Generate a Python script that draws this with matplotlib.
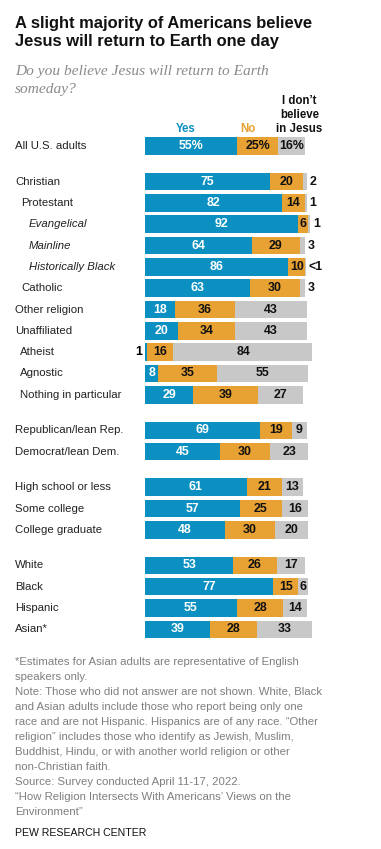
import matplotlib
matplotlib.use("Agg")
import matplotlib.pyplot as plt

plt.rcParams['font.family'] = ['Liberation Sans', 'DejaVu Sans']

# data
categories = [
    "All U.S. adults",
    "Christian", "Protestant", "Evangelical", "Mainline", "Historically Black",
    "Catholic", "Other religion", "Unaffiliated", "Atheist", "Agnostic",
    "Nothing in particular",
    "Republican/lean Rep.", "Democrat/lean Dem.",
    "High school or less", "Some college", "College graduate",
    "White", "Black", "Hispanic", "Asian*",
]
yes = [55, 75, 82, 92, 64, 86, 63, 18, 20, 1, 8, 29, 69, 45, 61, 57, 48, 53, 77, 55, 39]
no = [25, 20, 14, 6, 29, 10, 30, 36, 34, 16, 35, 39, 19, 30, 21, 25, 30, 26, 15, 28, 28]
dont = [16, 2, 1, 1, 3, 0.4, 3, 43, 43, 84, 55, 27, 9, 23, 13, 16, 20, 17, 6, 14, 33]

# group number (for vertical gaps) and indent level of each row
groups = [0, 1, 1, 1, 1, 1, 1, 1, 1, 1, 1, 1, 2, 2, 3, 3, 3, 4, 4, 4, 4]
indent = [0, 0, 1, 2, 2, 2, 1, 0, 0, 1, 1, 1, 0, 0, 0, 0, 0, 0, 0, 0, 0]
italic_rows = {"Evangelical", "Mainline", "Historically Black"}

BLUE = "#0B90C1"
ORANGE = "#E8A133"
GRAY = "#C8C8C8"
W, H = 381, 849

fig = plt.figure(figsize=(W / 100, H / 100), dpi=100)
fig.patch.set_facecolor("white")

# text layer in pixel coordinates
tx = fig.add_axes([0, 0, 1, 1])
tx.set_xlim(0, W)
tx.set_ylim(H, 0)
tx.axis("off")

# bar layer, x in percent
bar_left = 145
px_per_pct = 1.667
ax = fig.add_axes([bar_left / W, 0, 100 * px_per_pct / W, 1])
ax.set_xlim(0, 100)
ax.set_ylim(H, 0)
ax.axis("off")

ys = [146 + 21.33 * i + 14.2 * g for i, g in enumerate(groups)]
bh = 17.5

ax.barh(ys, yes, height=bh, color=BLUE, linewidth=0)
ax.barh(ys, no, left=yes, height=bh, color=ORANGE, linewidth=0)
left2 = [a + b for a, b in zip(yes, no)]
ax.barh(ys, dont, left=left2, height=bh, color=GRAY, linewidth=0)

lab_kw = dict(fontsize=8.9, fontweight="bold", va="center")
for i, y in enumerate(ys):
    suf = "%" if i == 0 else ""
    # yes
    if yes[i] >= 5:
        ax.text(yes[i] / 2, y, f"{yes[i]}{suf}", color="white", ha="center", **lab_kw)
    else:
        ax.text(-1.8, y, f"{yes[i]}{suf}", color="black", ha="right", **lab_kw)
    # no
    ax.text(yes[i] + no[i] / 2, y, f"{no[i]}{suf}", color="#111111", ha="center", **lab_kw)
    # don't believe
    d = dont[i]
    txt = "<1" if d < 1 else f"{d:g}{suf}"
    if d >= 6:
        ax.text(left2[i] + d / 2, y, txt, color="#111111", ha="center", **lab_kw)
    else:
        ax.text(left2[i] + d + 1.8, y, txt, color="#111111", ha="left", **lab_kw)

    # category label
    xoff = [15, 21, 29][indent[i]]
    if categories[i] in ("Atheist", "Agnostic", "Nothing in particular"):
        xoff = 20
    tx.text(xoff, y, categories[i], fontsize=8.2, color="#222222", va="center",
            ha="left", style="italic" if categories[i] in italic_rows else "normal")

# headers
tx.text(186, 129, "Yes", color=BLUE, fontsize=8.3, fontweight="bold", ha="center", va="center")
tx.text(248, 129, "No", color=ORANGE, fontsize=8.3, fontweight="bold", ha="center", va="center")
for k, line in enumerate(["I don\u2019t", "believe", "in Jesus"]):
    tx.text(299.5, 100.5 + 14 * k, line, color="#111111", fontsize=8.3,
            fontweight="bold", ha="center", va="center")

# title and subtitle
tx.text(15, 28, "A slight majority of Americans believe", fontsize=11.9,
        fontweight="bold", color="#111111", ha="left", va="baseline")
tx.text(15, 46, "Jesus will return to Earth one day", fontsize=11.9,
        fontweight="bold", color="#111111", ha="left", va="baseline")
tx.text(15, 75, "Do you believe Jesus will return to Earth", fontsize=11.1,
        style="italic", family=["Liberation Serif", "DejaVu Serif"], color="#8A8A8A",
        ha="left", va="baseline")
tx.text(15, 92.5, "someday?", fontsize=11.1, style="italic",
        family=["Liberation Serif", "DejaVu Serif"], color="#8A8A8A",
        ha="left", va="baseline")

notes = [
    "*Estimates for Asian adults are representative of English",
    "speakers only.",
    "Note: Those who did not answer are not shown. White, Black",
    "and Asian adults include those who report being only one",
    "race and are not Hispanic. Hispanics are of any race. \u201cOther",
    "religion\u201d includes those who identify as Jewish, Muslim,",
    "Buddhist, Hindu, or with another world religion or other",
    "non-Christian faith.",
    "Source: Survey conducted April 11-17, 2022.",
    "\u201cHow Religion Intersects With Americans\u2019 Views on the",
    "Environment\u201d",
]
for k, line in enumerate(notes):
    tx.text(15, 661.7 + 15 * k, line, fontsize=8.2, color="#7F7F7F",
            ha="left", va="center")
tx.text(15, 833.5, "PEW RESEARCH CENTER", fontsize=7.6, color="#111111",
        ha="left", va="center")

fig.savefig("out.png", dpi=100)
